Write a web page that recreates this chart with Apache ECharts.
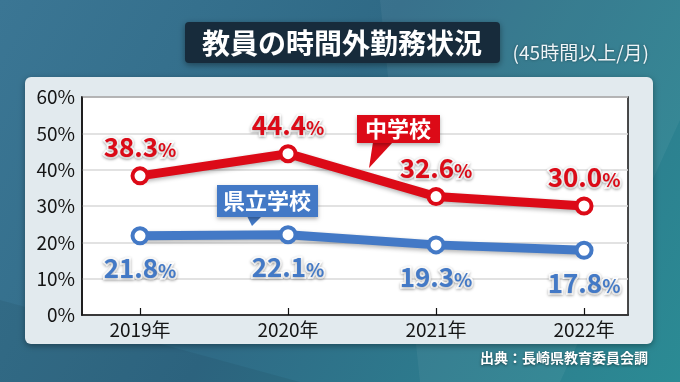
<!DOCTYPE html>
<html><head><meta charset="utf-8">
<script src="https://cdn.jsdelivr.net/npm/echarts@6/dist/echarts.min.js"></script>
<style>html,body{margin:0;padding:0;}#c{width:680px;height:382px;}</style>
</head><body><div id="c"></div>
<script>
const years = ['2019年','2020年','2021年','2022年'];
const juniorHigh = [38.3, 44.4, 32.6, 30.0];   // 中学校
const prefectural = [21.8, 22.1, 19.3, 17.8];  // 県立学校
const yTicks = [0, 10, 20, 30, 40, 50, 60];

const FONT = '"Noto Sans CJK JP", "Noto Sans", sans-serif';
const RED = '#dc0a17';
const BLUE = '#4379c6';

const chart = echarts.init(document.getElementById('c'), null, {renderer: 'canvas'});

function valLabel(color, pos, dist) {
  const common = {fontFamily: FONT, fontWeight: 'bold', color: color,
          textBorderColor: '#fff', textBorderWidth: 3.5,
          textShadowColor: 'rgba(0,0,0,0.3)', textShadowBlur: 3, textShadowOffsetY: 1};
  return {
    show: true, position: pos, distance: dist,
    formatter: p => '{a|' + p.value[1].toFixed(1) + '}{b|%}',
    rich: {
      a: Object.assign({fontSize: 26}, common),
      b: Object.assign({fontSize: 19, padding: [5,0,0,0]}, common)
    }
  };
}

function lineSeries(name, arr, color, pos, dist) {
  return {
    name: name, type: 'line', z: 5,
    data: arr.map((v, i) => [i, v]),
    symbol: 'circle', symbolSize: 15,
    itemStyle: {color: '#fff', borderColor: color, borderWidth: 4},
    lineStyle: {color: color, width: 9, shadowColor: 'rgba(0,0,0,0.3)', shadowBlur: 4, shadowOffsetY: 2},
    label: valLabel(color, pos, dist),
    emphasis: {disabled: true},
    animation: false
  };
}

const option = {
  animation: false,
  graphic: [
    {type: 'rect', z: -30, silent: true, shape: {x: 0, y: 0, width: 680, height: 382},
     style: {fill: {type: 'linear', x: 0, y: 0, x2: 1, y2: 1, colorStops: [
       {offset: 0, color: '#3b7694'}, {offset: 0.45, color: '#2f6a86'}, {offset: 1, color: '#2b8b94'}]}}},
    {type: 'polygon', z: -29, silent: true, shape: {points: [[380,0],[680,0],[680,120],[560,382],[420,382]]},
     style: {fill: 'rgba(255,255,255,0.05)'}},
    {type: 'polygon', z: -29, silent: true, shape: {points: [[0,382],[0,300],[300,382]]},
     style: {fill: 'rgba(0,0,0,0.06)'}},
    // panel
    {type: 'rect', z: -20, silent: true, shape: {x: 25, y: 77, width: 628, height: 267, r: 6},
     style: {fill: '#e2eaee', shadowColor: 'rgba(0,0,0,0.35)', shadowBlur: 6, shadowOffsetY: 2}},
    // title box
    {type: 'rect', z: 10, silent: true, shape: {x: 185, y: 22, width: 315, height: 41, r: 4},
     style: {fill: '#172b3b', shadowColor: 'rgba(0,0,0,0.4)', shadowBlur: 6, shadowOffsetY: 2}},
    {type: 'text', z: 11, silent: true, x: 342, y: 43,
     style: {text: '教員の時間外勤務状況', fill: '#fff', font: 'bold 28px ' + FONT, align: 'center', verticalAlign: 'middle'}},
    {type: 'text', z: 11, silent: true, x: 649, y: 53,
     style: {text: '(45時間以上/月)', fill: '#eef4f7', font: '19px ' + FONT, align: 'right', verticalAlign: 'middle',
             textShadowColor: 'rgba(0,0,0,0.4)', textShadowBlur: 3}},
    // source
    {type: 'text', z: 11, silent: true, x: 648, y: 358,
     style: {text: '出典：長崎県教育委員会調', fill: '#fff', font: 'bold 14px ' + FONT, align: 'right', verticalAlign: 'middle',
             textShadowColor: 'rgba(0,0,0,0.5)', textShadowBlur: 3, textShadowOffsetY: 1}},
    // 中学校 callout
    {type: 'polygon', z: 50, silent: true, shape: {points: [[373,142],[393,142],[369,168]]}, style: {fill: RED}},
    {type: 'rect', z: 50, silent: true, shape: {x: 357, y: 115, width: 83, height: 28},
     style: {fill: RED, shadowColor: 'rgba(0,0,0,0.3)', shadowBlur: 4, shadowOffsetY: 2}},
    {type: 'text', z: 51, silent: true, x: 398, y: 129,
     style: {text: '中学校', fill: '#fff', font: 'bold 22px ' + FONT, align: 'center', verticalAlign: 'middle'}},
    // 県立学校 callout
    {type: 'polygon', z: 50, silent: true, shape: {points: [[247,216],[262,216],[252,226]]}, style: {fill: BLUE}},
    {type: 'rect', z: 50, silent: true, shape: {x: 217, y: 185, width: 101, height: 32},
     style: {fill: BLUE, shadowColor: 'rgba(0,0,0,0.3)', shadowBlur: 4, shadowOffsetY: 2}},
    {type: 'text', z: 51, silent: true, x: 267, y: 201,
     style: {text: '県立学校', fill: '#fff', font: 'bold 22px ' + FONT, align: 'center', verticalAlign: 'middle'}}
  ],
  grid: {left: 82, right: 52, top: 97, bottom: 67, show: true, backgroundColor: '#fff',
         borderColor: '#111', borderWidth: 1.5, containLabel: false},
  xAxis: {
    type: 'value', min: -0.392, max: 3.297,
    axisLine: {show: true, onZero: false, lineStyle: {color: '#111', width: 1.5}},
    axisTick: {show: true, inside: true, length: 7, lineStyle: {color: '#111', width: 1.2}, customValues: [0,1,2,3]},
    axisLabel: {customValues: [0,1,2,3], formatter: v => years[Math.round(v)], color: '#151515',
                fontFamily: FONT, fontSize: 19, margin: 5},
    splitLine: {show: false}
  },
  yAxis: {
    type: 'value', min: yTicks[0], max: yTicks[yTicks.length - 1], interval: 10,
    axisLine: {show: true, onZero: false, lineStyle: {color: '#111', width: 1.5}},
    axisTick: {show: false},
    axisLabel: {formatter: '{value}%', color: '#151515', fontFamily: FONT, fontSize: 19, margin: 7},
    splitLine: {show: true, lineStyle: {color: '#d8d8d8', width: 1.5}}
  },
  series: [
    lineSeries('中学校', juniorHigh, RED, 'top', 6),
    lineSeries('県立学校', prefectural, BLUE, 'bottom', 10)
  ]
};
chart.setOption(option);
</script>
</body></html>
